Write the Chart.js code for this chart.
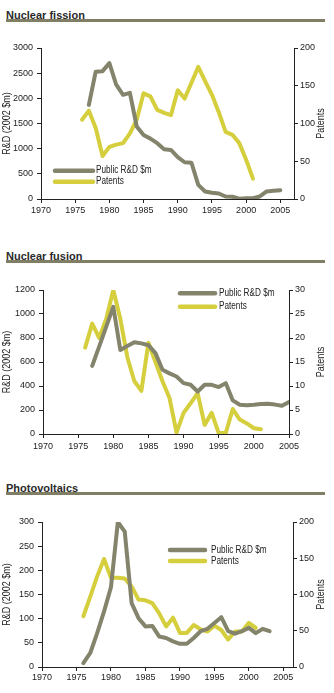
<!DOCTYPE html>
<html>
<head>
<meta charset="utf-8">
<script src="https://cdn.jsdelivr.net/npm/chart.js@4.4.1/dist/chart.umd.min.js"></script>
<style>
  body { margin: 0; width: 334px; height: 693px; background: #fff; position: relative; overflow: hidden; }
  .title { position: absolute; left: 6px; font: bold 11px "Liberation Sans", Arial, sans-serif; color: #2a2a2a; line-height: 12px; }
  .rule { position: absolute; left: 6px; width: 319px; height: 3px; background: #807e64; }
  canvas { position: absolute; left: 0; }
</style>
</head>
<body>
<div class="title" style="top:9px">Nuclear fission</div>
<div class="rule" style="top:19px"></div>
<canvas id="fissionChart" width="334" height="200" style="top:28px"></canvas>

<div class="title" style="top:250px">Nuclear fusion</div>
<div class="rule" style="top:260px"></div>
<canvas id="fusionChart" width="334" height="200" style="top:270px"></canvas>

<div class="title" style="top:482px">Photovoltaics</div>
<div class="rule" style="top:492px"></div>
<canvas id="pvChart" width="334" height="200" style="top:493px"></canvas>

<script>
const seriesLabels = ['Public R&D $m', 'Patents'];
const yearTicks = [1970, 1975, 1980, 1985, 1990, 1995, 2000, 2005];

// nuclear fission: R&D from 1977, patents from 1976
const fissionRd = [1870, 2530, 2540, 2700, 2270, 2070, 2110, 1440, 1270, 1200,
  1110, 990, 975, 830, 730, 720, 280, 150, 125, 110,
  50, 45, 5, 15, 15, 50, 150, 165, 175];
const fissionPatents = [105, 117, 94, 57, 69, 72, 74, 87, 105, 140,
  136, 118, 114, 111, 144, 133, 154, 175, 156, 138,
  115, 89, 85, 74, 52, 27];
const fissionRdTicks = [0, 500, 1000, 1500, 2000, 2500, 3000];
const fissionPatentTicks = [0, 50, 100, 150, 200];

// nuclear fusion: R&D from 1977, patents from 1976
const fusionRd = [568, 730, 895, 1060, 700, 734, 765, 755, 740, 674,
  535, 505, 479, 424, 410, 354, 410, 410, 391, 424,
  280, 244, 240, 244, 250, 252, 245, 235, 266];
const fusionPatents = [18, 23, 20, 24, 30, 24, 16, 11, 9, 19,
  15, 11, 7.5, 0.3, 4.4, 6.4, 8.5, 1.9, 4.4, 0.2,
  0.2, 5.2, 3, 2.2, 1.2, 1];
const fusionRdTicks = [0, 200, 400, 600, 800, 1000, 1200];
const fusionPatentTicks = [0, 5, 10, 15, 20, 25, 30];

// photovoltaics: R&D from 1976, patents from 1976
const pvRd = [8, 29, 70, 115, 165, 300, 280, 132, 101, 84,
  85, 63, 60, 53, 48, 48, 60, 74, 79, 91,
  103, 74, 69, 74, 81, 70, 79, 74];
const pvPatents = [70, 97, 125, 149, 123, 123, 122, 111, 93, 92,
  88, 74, 56, 68, 47, 47, 58, 52, 49, 57,
  51, 38, 49, 49, 61, 54];
const pvRdTicks = [0, 50, 100, 150, 200, 250, 300];
const pvPatentTicks = [0, 50, 100, 150, 200];

const GREY = '#84836c';
const YELLOW = '#d5ce3d';
const INK = '#222';
const FONT = '"Liberation Sans", Arial, sans-serif';

function pairs(startYear, values) {
  return values.map((v, i) => ({ x: startYear + i, y: v }));
}

// legend drawn inside the plot; text squeezed to look like the narrow face
const lineLegend = {
  id: 'lineLegend',
  afterDraw(chart, args, opts) {
    const ctx = chart.ctx;
    ctx.save();
    ctx.font = '10px ' + FONT;
    ctx.textBaseline = 'middle';
    ctx.lineCap = 'round';
    chart.data.datasets.forEach((ds, i) => {
      const y = opts.y + i * opts.gap;
      ctx.strokeStyle = ds.borderColor;
      ctx.lineWidth = 4.5;
      ctx.beginPath();
      ctx.moveTo(opts.x, y);
      ctx.lineTo(opts.x + opts.len, y);
      ctx.stroke();
      ctx.fillStyle = INK;
      ctx.save();
      ctx.translate(opts.textX, y);
      ctx.scale(0.82, 1);
      ctx.fillText(ds.label, 0, 0);
      ctx.restore();
    });
    ctx.restore();
  }
};

// both axis titles read bottom to top
const sideTitles = {
  id: 'sideTitles',
  afterDraw(chart, args, opts) {
    const ctx = chart.ctx;
    const a = chart.chartArea;
    const cy = (a.top + a.bottom) / 2;
    ctx.save();
    ctx.font = '10px ' + FONT;
    ctx.fillStyle = INK;
    ctx.textAlign = 'center';
    ctx.textBaseline = 'middle';
    [[opts.left, opts.leftX], [opts.right, opts.rightX]].forEach(([txt, x]) => {
      ctx.save();
      ctx.translate(x, cy);
      ctx.rotate(-Math.PI / 2);
      ctx.scale(0.9, 1);
      ctx.fillText(txt, 0, 0);
      ctx.restore();
    });
    ctx.restore();
  }
};

function axisBase(tickArr) {
  return {
    afterBuildTicks: s => { s.ticks = tickArr.map(v => ({ value: v })); },
    grid: { drawOnChartArea: false, drawTicks: true, tickLength: 4, color: INK, lineWidth: 1 },
    border: { display: true, color: INK, width: 1 },
  };
}

function makePanel(id, c) {
  new Chart(document.getElementById(id), {
    type: 'line',
    data: {
      datasets: [
        { label: seriesLabels[0], data: pairs(c.rdStart, c.rd), yAxisID: 'y',
          borderColor: GREY, backgroundColor: GREY },
        { label: seriesLabels[1], data: pairs(c.patStart, c.pat), yAxisID: 'y2',
          borderColor: YELLOW, backgroundColor: YELLOW }
      ]
    },
    options: {
      responsive: false,
      animation: false,
      events: [],
      elements: {
        line: { borderWidth: 4, tension: 0, borderCapStyle: 'round', borderJoinStyle: 'round' },
        point: { radius: 0 }
      },
      layout: { padding: { top: c.top, bottom: c.bottom, left: 0, right: 0 } },
      plugins: {
        legend: { display: false },
        tooltip: { enabled: false },
        lineLegend: c.legend,
        sideTitles: { left: 'R&D (2002 $m)', right: 'Patents', leftX: 7, rightX: 321 }
      },
      scales: {
        x: Object.assign(axisBase(yearTicks), {
          type: 'linear', position: 'bottom', min: 1970, max: c.xMax,
          ticks: { font: { family: FONT, size: 9 }, color: INK, padding: c.xPad,
                   maxRotation: 0, autoSkip: false, callback: v => String(v) },
          afterFit: s => { s.height = 22; }
        }),
        y: Object.assign(axisBase(c.rdTicks), {
          type: 'linear', position: 'left', min: 0, max: c.rdTicks[c.rdTicks.length - 1],
          ticks: { font: { family: FONT, size: 9 }, color: INK, padding: 4, callback: v => String(v) },
          afterFit: s => { s.width = c.left; }
        }),
        y2: Object.assign(axisBase(c.patTicks), {
          type: 'linear', position: 'right', min: 0, max: c.patTicks[c.patTicks.length - 1],
          ticks: { font: { family: FONT, size: 9 }, color: INK, padding: 2, callback: v => String(v) },
          afterFit: s => { s.width = 334 - c.right; }
        })
      }
    },
    plugins: [lineLegend, sideTitles]
  });
}

makePanel('fissionChart', {
  rd: fissionRd, rdStart: 1977, pat: fissionPatents, patStart: 1976,
  rdTicks: fissionRdTicks, patTicks: fissionPatentTicks,
  xMax: 2007, left: 41, right: 294, top: 20, bottom: 7, xPad: 2,
  legend: { x: 55, y: 142.7, gap: 11, len: 38, textX: 96 }
});

makePanel('fusionChart', {
  rd: fusionRd, rdStart: 1977, pat: fusionPatents, patStart: 1976,
  rdTicks: fusionRdTicks, patTicks: fusionPatentTicks,
  xMax: 2005, left: 43, right: 289, top: 20, bottom: 14, xPad: 3,
  legend: { x: 180, y: 23.3, gap: 13.4, len: 35, textX: 219 }
});

makePanel('pvChart', {
  rd: pvRd, rdStart: 1976, pat: pvPatents, patStart: 1976,
  rdTicks: pvRdTicks, patTicks: pvPatentTicks,
  xMax: 2006.4, left: 42, right: 293, top: 29, bottom: 4, xPad: 1,
  legend: { x: 170, y: 57, gap: 11, len: 35, textX: 211 }
});
</script>
</body>
</html>
